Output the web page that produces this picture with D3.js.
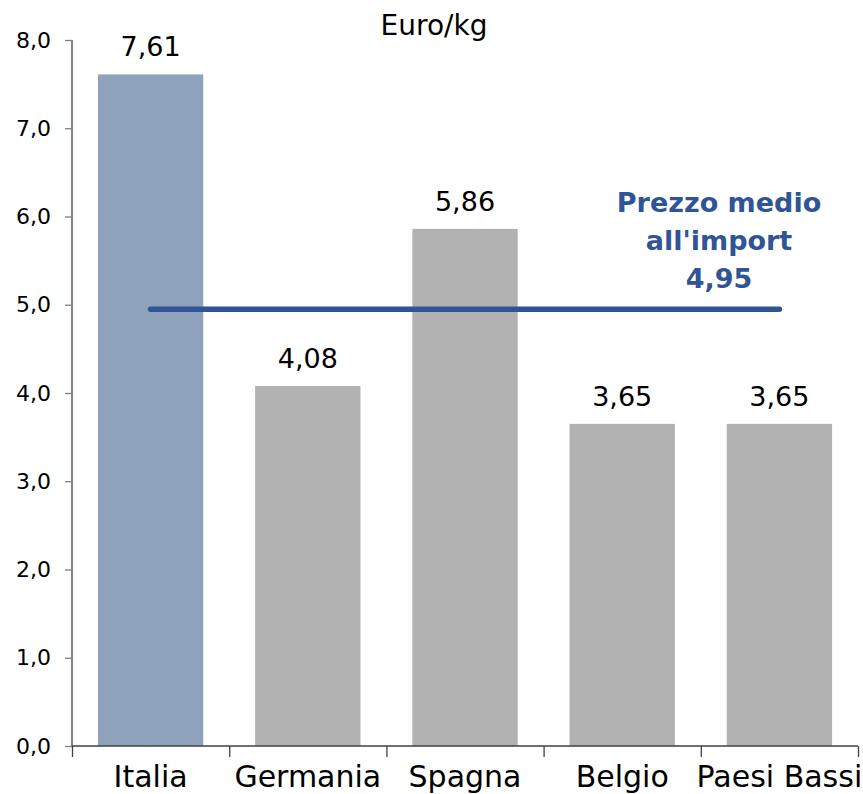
<!DOCTYPE html>
<html>
<head>
<meta charset="utf-8">
<script src="https://cdnjs.cloudflare.com/ajax/libs/d3/7.8.5/d3.min.js"></script>
<style>
  body { margin: 0; background: #fff; }
  text { font-family: 'DejaVu Sans', sans-serif; fill: #000; }
</style>
</head>
<body>
<div id="chart"></div>
<script>
var categories = ['Italia', 'Germania', 'Spagna', 'Belgio', 'Paesi Bassi'];
var values = [7.61, 4.08, 5.86, 3.65, 3.65];
var average = 4.95;
var yTicks = [0, 1, 2, 3, 4, 5, 6, 7, 8];
var unitLabel = 'Euro/kg';
var avgLabel = ['Prezzo medio', "all'import", '4,95'];

var width = 863;
var height = 794;
var margin = { top: 40, right: 5, bottom: 48, left: 72 };
var graphWidth = width - margin.left - margin.right;
var graphHeight = height - margin.top - margin.bottom;

var fmt = function (d, n) { return d.toFixed(n).replace('.', ','); };

var svg = d3.select('#chart')
  .append('svg')
  .attr('width', width)
  .attr('height', height);

var graph = svg.append('g')
  .attr('transform', 'translate(' + margin.left + ',' + margin.top + ')');

var x = d3.scaleBand()
  .domain(categories)
  .range([0, graphWidth])
  .paddingInner(0.33)
  .paddingOuter(0.165);

var xEdge = d3.scaleLinear()
  .domain([0, categories.length])
  .range([0, graphWidth]);

var y = d3.scaleLinear().domain([0, 8]).range([graphHeight, 0]);

// bars
graph.selectAll('rect.bar')
  .data(values)
  .enter()
  .append('rect')
  .attr('class', 'bar')
  .attr('x', function (d, i) { return x(categories[i]); })
  .attr('y', function (d) { return y(d); })
  .attr('width', x.bandwidth())
  .attr('height', function (d) { return graphHeight - y(d); })
  .attr('fill', function (d, i) { return i === 0 ? '#8ea3bb' : '#b2b2b2'; });

// value labels
graph.selectAll('text.val')
  .data(values)
  .enter()
  .append('text')
  .attr('class', 'val')
  .attr('x', function (d, i) { return x(categories[i]) + x.bandwidth() / 2; })
  .attr('y', function (d) { return y(d) - 18; })
  .attr('text-anchor', 'middle')
  .style('font-size', '27px')
  .text(function (d) { return fmt(d, 2); });

// y axis
var yAxis = graph.append('g')
  .call(d3.axisLeft(y).tickValues(yTicks).tickSize(7).tickPadding(14)
    .tickFormat(function (d) { return fmt(d, 1); }));
yAxis.select('.domain').attr('stroke', '#404040').attr('stroke-width', 1.3)
  .attr('d', 'M0,0V' + graphHeight);
yAxis.selectAll('.tick line').attr('stroke', '#7f7f7f').attr('stroke-width', 1.3);
yAxis.selectAll('.tick text').style('font-size', '22px').style('font-family', "'DejaVu Sans', sans-serif");

// x axis: tick marks at band edges
var xAxisEdges = graph.append('g')
  .attr('transform', 'translate(0,' + graphHeight + ')')
  .call(d3.axisBottom(xEdge).tickValues(d3.range(categories.length + 1))
    .tickSize(11).tickFormat(''));
xAxisEdges.select('.domain').attr('stroke', '#404040').attr('stroke-width', 1.3)
  .attr('d', 'M0,0H' + graphWidth);
xAxisEdges.selectAll('.tick line').attr('stroke', '#404040').attr('stroke-width', 1.3);

// x axis labels
var xAxisLabels = graph.append('g')
  .attr('transform', 'translate(0,' + graphHeight + ')')
  .call(d3.axisBottom(x).tickSize(0).tickPadding(20));
xAxisLabels.select('.domain').remove();
xAxisLabels.selectAll('.tick text').style('font-size', '30px').style('font-family', "'DejaVu Sans', sans-serif");

// average line
graph.append('line')
  .attr('x1', x(categories[0]) + x.bandwidth() / 2)
  .attr('x2', x(categories[categories.length - 1]) + x.bandwidth() / 2)
  .attr('y1', y(average))
  .attr('y2', y(average))
  .attr('stroke', '#2f5597')
  .attr('stroke-width', 5.5)
  .attr('stroke-linecap', 'round');

// average annotation
svg.append('text')
  .attr('x', 719)
  .attr('y', 212)
  .attr('text-anchor', 'middle')
  .style('font-size', '27px')
  .style('font-weight', 'bold')
  .selectAll('tspan')
  .data(avgLabel)
  .enter()
  .append('tspan')
  .attr('x', 719)
  .attr('dy', function (d, i) { return i === 0 ? 0 : 38; })
  .style('fill', '#2f5597')
  .text(function (d) { return d; });

// unit title
svg.append('text')
  .attr('x', 434)
  .attr('y', 35)
  .attr('text-anchor', 'middle')
  .style('font-size', '28px')
  .text(unitLabel);
</script>
</body>
</html>
